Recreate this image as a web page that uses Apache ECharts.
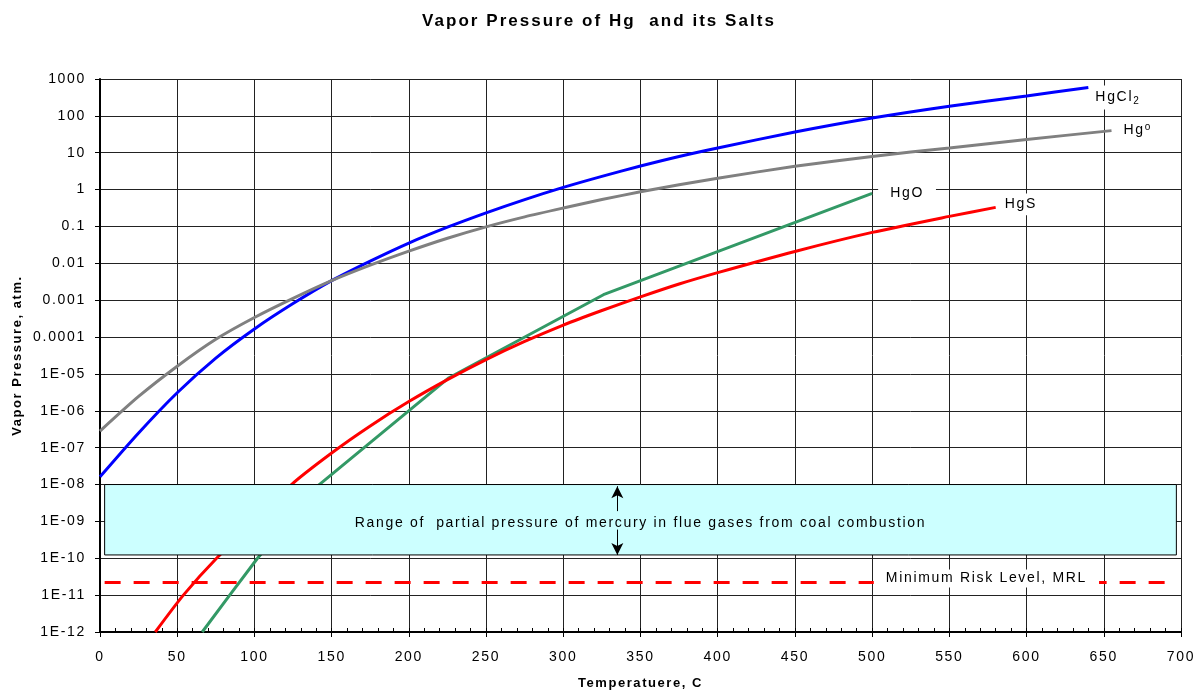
<!DOCTYPE html>
<html>
<head>
<meta charset="utf-8">
<script src="https://cdn.jsdelivr.net/npm/echarts@6/dist/echarts.min.js"></script>
<style>
  html, body { margin: 0; padding: 0; background: #fff; }
  #chart { width: 1198px; height: 690px; }
</style>
</head>
<body>
<div id="chart"></div>
<script>
// Slightly open tracking for all canvas text (proportional to the font size).
(function () {
  const proto = CanvasRenderingContext2D.prototype;
  const desc = Object.getOwnPropertyDescriptor(proto, 'font');
  if (!desc || !('letterSpacing' in proto)) return;
  Object.defineProperty(proto, 'font', {
    configurable: true,
    get() { return desc.get.call(this); },
    set(v) {
      desc.set.call(this, v);
      const m = /([\d.]+)px/.exec(v);
      this.letterSpacing = m ? (parseFloat(m[1]) * 0.12).toFixed(2) + 'px' : '0px';
    }
  });
})();

// ---- data: temperature (C) and vapor pressure (atm) ----
const hgTemp    = [0, 25, 50, 75, 100, 125, 150, 175, 200, 225, 250, 275, 300, 325, 350, 375, 400, 450, 500, 550, 600, 655];
const hgPress   = [2.82e-7, 2.45e-6, 1.62e-5, 8.7e-5, 3.39e-4, 1.12e-3, 3.39e-3, 8.9e-3, 0.0214, 0.0479, 0.0977, 0.182, 0.316, 0.537, 0.871, 1.35, 2.04, 4.27, 7.94, 13.5, 22.9, 39.8];

const hgcl2Temp  = [0, 25, 50, 75, 100, 125, 150, 175, 200, 225, 250, 275, 300, 325, 350, 375, 400, 450, 500, 550, 600, 640];
const hgcl2Press = [1.62e-8, 2.51e-7, 3.09e-6, 2.69e-5, 1.66e-4, 8.1e-4, 3.39e-3, 0.0115, 0.0355, 0.0955, 0.234, 0.537, 1.15, 2.29, 4.37, 7.94, 13.5, 36.3, 87, 182, 347, 589];

const hgoTemp  = [66.2, 84, 102, 142, 226, 326, 500];
const hgoPress = [1e-12, 1e-11, 1e-10, 1e-8, 7.9e-6, 1.41e-3, 0.79];

const hgsTemp  = [35.8, 54, 75.5, 124, 150, 175, 200, 225, 250, 275, 300, 325, 350, 375, 400, 450, 500, 550, 580];
const hgsPress = [1e-12, 1e-11, 1e-10, 1e-8, 7.2e-8, 3.9e-7, 1.78e-6, 7.0e-6, 2.45e-5, 7.6e-5, 2.12e-4, 5.25e-4, 1.23e-3, 2.75e-3, 5.6e-3, 0.021, 0.069, 0.188, 0.33];

// flue-gas range band and minimum risk level
const flueRangeTemp  = [3, 697];
const flueRangePress = [1e-8, 1.23e-10];
const flueArrowTemp  = 335;
const flueArrowPress = [1.9e-9, 9.0e-9, 6.0e-10, 1.23e-10];   // up-arrow from/to, down-arrow from/to
const mrlTemp  = [3, 697];
const mrlPress = 2.2e-11;
const mrlLabelTemp = 574;

// y-axis decades and their tick labels, 1E-12 ... 1000
const yTickValues = [1e-12, 1e-11, 1e-10, 1e-9, 1e-8, 1e-7, 1e-6, 1e-5, 1e-4, 1e-3, 0.01, 0.1, 1, 10, 100, 1000];
const yTickLabels = ['1E-12', '1E-11', '1E-10', '1E-09', '1E-08', '1E-07', '1E-06', '1E-05',
                     '0.0001', '0.001', '0.01', '0.1', '1', '10', '100', '1000'];

const titleText = 'Vapor Pressure of Hg  and its Salts';
const rangeText = 'Range of  partial pressure of mercury in flue gases from coal combustion';
const mrlText   = 'Minimum Risk Level, MRL';

const FONT = 'Liberation Sans, Arial, sans-serif';
const pairs = (xs, ys) => xs.map((x, i) => [x, ys[i]]);

const chart = echarts.init(document.getElementById('chart'), null, { renderer: 'canvas' });

function endLabel(formatter, distance, offset, padding, rich) {
  return {
    show: true,
    formatter: formatter,
    distance: distance,
    offset: offset,
    color: '#000',
    fontFamily: FONT,
    fontSize: 14,
    backgroundColor: '#fff',
    padding: padding,
    rich: rich
  };
}

function yLabel(v) {
  let best = 0;
  for (let i = 1; i < yTickValues.length; i++) {
    if (Math.abs(Math.log10(v) - Math.log10(yTickValues[i])) <
        Math.abs(Math.log10(v) - Math.log10(yTickValues[best]))) best = i;
  }
  return yTickLabels[best];
}

const option = {
  backgroundColor: '#fff',
  animation: false,
  title: {
    text: titleText,
    left: 'center',
    top: 7,
    textStyle: { fontFamily: FONT, fontWeight: 'bold', fontSize: 17, color: '#000' }
  },
  grid: { left: 100, right: 17, top: 79, bottom: 58, outerBoundsMode: 'none', containLabel: false },
  xAxis: [{
    type: 'value',
    min: 0, max: 700, interval: 50,
    name: 'Temperatuere, C',
    nameLocation: 'middle',
    nameGap: 44,
    nameMoveOverlap: false,
    nameTextStyle: { fontFamily: FONT, fontWeight: 'bold', fontSize: 13, color: '#000' },
    axisLine: { show: true, onZero: false, lineStyle: { color: '#000', width: 2 } },
    axisTick: { show: true, inside: false, length: 5, lineStyle: { color: '#000', width: 1 } },
    axisLabel: { fontFamily: FONT, fontSize: 14, color: '#000', margin: 17 },
    splitLine: { show: true, lineStyle: { color: '#222', width: 1 } }
  }, {
    // minor ticks every 10 C, drawn inward from the bottom axis
    type: 'value',
    min: 0, max: 700, interval: 10,
    position: 'bottom',
    axisLine: { show: false },
    axisTick: { show: true, inside: true, length: 4, lineStyle: { color: '#000', width: 1 } },
    axisLabel: { show: false },
    splitLine: { show: false }
  }],
  yAxis: {
    type: 'log',
    logBase: 10,
    min: 1e-12, max: 1000,
    splitNumber: 15,
    name: 'Vapor Pressure, atm.',
    nameLocation: 'middle',
    nameGap: 75,
    nameMoveOverlap: false,
    nameTextStyle: { fontFamily: FONT, fontWeight: 'bold', fontSize: 13, color: '#000' },
    axisLine: { show: true, lineStyle: { color: '#000', width: 2 } },
    axisTick: { show: true, inside: false, length: 5, customValues: yTickValues,
                lineStyle: { color: '#000', width: 1 } },
    axisLabel: {
      fontFamily: FONT, fontSize: 14, color: '#000', margin: 14,
      customValues: yTickValues,
      formatter: yLabel
    },
    splitLine: { show: true, customValues: yTickValues, lineStyle: { color: '#222', width: 1 } }
  },
  series: [
    {
      name: 'HgCl2', type: 'line', data: pairs(hgcl2Temp, hgcl2Press),
      showSymbol: false, smooth: 0.25, z: 3,
      lineStyle: { color: '#0000ff', width: 3 },
      endLabel: endLabel('{a|HgCl}{b|2}', 1, [0, 10], [3, 6],
        { a: { fontFamily: FONT, fontSize: 14, color: '#000', lineHeight: 18 },
          b: { fontFamily: FONT, fontSize: 10, color: '#000', lineHeight: 18, verticalAlign: 'bottom', padding: [6, 0, 0, 0] } })
    },
    {
      name: 'Hg', type: 'line', data: pairs(hgTemp, hgPress),
      showSymbol: false, smooth: 0.25, z: 3,
      lineStyle: { color: '#808080', width: 3 },
      endLabel: endLabel('{a|Hg}{b|o}', 6, [0, 0], [3, 6],
        { a: { fontFamily: FONT, fontSize: 14, color: '#000', lineHeight: 18 },
          b: { fontFamily: FONT, fontSize: 10, color: '#000', lineHeight: 18, verticalAlign: 'top', padding: [0, 0, 8, 0] } })
    },
    {
      name: 'HgO', type: 'line', data: pairs(hgoTemp, hgoPress),
      showSymbol: false, smooth: false, z: 3,
      lineStyle: { color: '#339966', width: 3 },
      endLabel: endLabel('HgO', 6, [0, 0], [3, 12])
    },
    {
      name: 'HgS', type: 'line', data: pairs(hgsTemp, hgsPress),
      showSymbol: false, smooth: 0.25, z: 3,
      lineStyle: { color: '#ff0000', width: 3 },
      endLabel: endLabel('HgS', 3, [0, -3], [3, 6])
    },
    {
      // annotation layer: flue-gas range band, arrows, MRL line and label
      name: 'annotations', type: 'line', data: [], silent: true, z: 10,
      markArea: {
        z: 10, silent: true,
        itemStyle: { color: '#ccffff', borderColor: '#000', borderWidth: 1, opacity: 1 },
        label: { show: true, position: 'inside', offset: [0, 3], color: '#000', fontFamily: FONT, fontSize: 14 },
        data: [[
          { name: rangeText, coord: [flueRangeTemp[0], flueRangePress[0]] },
          { coord: [flueRangeTemp[1], flueRangePress[1]] }
        ]]
      },
      markLine: {
        z: 11, silent: true, animation: false,
        symbol: ['none', 'none'],
        symbolSize: [9, 12],
        label: { show: false },
        lineStyle: { color: '#000', width: 1, type: 'solid' },
        data: [
          [{ coord: [flueArrowTemp, flueArrowPress[0]] },
           { coord: [flueArrowTemp, flueArrowPress[1]], symbol: 'arrow' }],
          [{ coord: [flueArrowTemp, flueArrowPress[2]] },
           { coord: [flueArrowTemp, flueArrowPress[3]], symbol: 'arrow' }],
          [{ coord: [mrlTemp[0], mrlPress], lineStyle: { color: '#ff0000', width: 3, type: [16, 13] } },
           { coord: [mrlTemp[1], mrlPress] }]
        ]
      },
      markPoint: {
        z: 12, silent: true, animation: false,
        symbol: 'rect', symbolSize: 0,
        data: [{
          coord: [mrlLabelTemp, mrlPress],
          label: {
            show: true, position: 'inside', formatter: mrlText,
            offset: [0, -4],
            color: '#000', fontFamily: FONT, fontSize: 14, lineHeight: 16,
            backgroundColor: '#fff', padding: [2, 12, 0, 12]
          }
        }]
      }
    }
  ]
};

chart.setOption(option);
</script>
</body>
</html>
